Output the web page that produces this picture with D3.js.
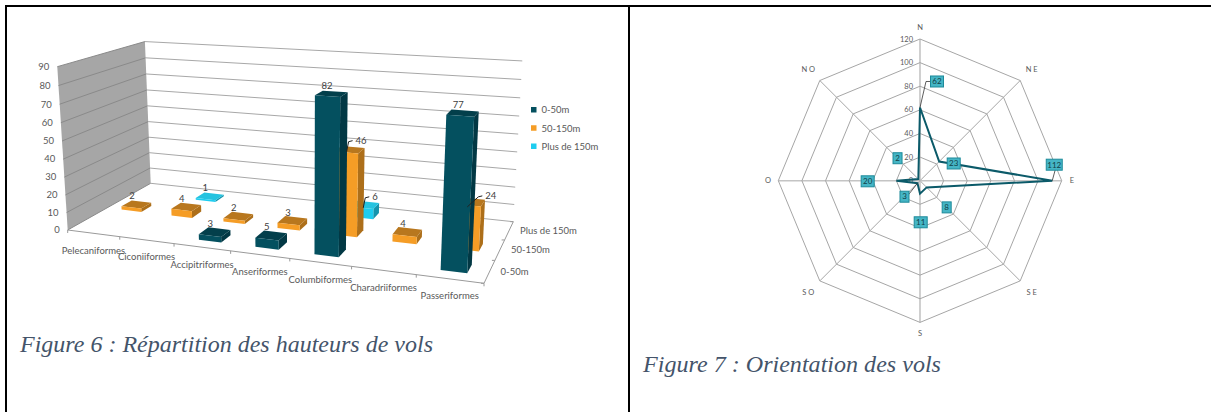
<!DOCTYPE html>
<html lang="fr">
<head>
<meta charset="utf-8">
<title>Hauteurs et orientation des vols</title>
<script src="https://cdn.jsdelivr.net/npm/d3@7"></script>
<style>
  html, body { margin: 0; padding: 0; background: #fff; }
  svg { display: block; }
  text { font-family: Lato, "Open Sans", sans-serif; }
  .caption { font-family: "Liberation Serif", serif; font-style: italic; fill: #44546a; }
</style>
</head>
<body>
<svg id="chart" width="1211" height="412"></svg>
<script>
// Flight height counts per bird order
const orders = ["Pelecaniformes", "Ciconiiformes", "Accipitriformes", "Anseriformes", "Columbiformes", "Charadriiformes", "Passeriformes"];
const heightBands = ["0-50m", "50-150m", "Plus de 150m"];
const heightLow = [0, 0, 3, 5, 82, 0, 77];
const heightMid = [2, 4, 2, 3, 46, 4, 24];
const heightHigh = [0, 1, 0, 0, 6, 0, 0];

// Flight orientation counts
const directions = ["N", "N E", "E", "S E", "S", "S O", "O", "N O"];
const directionCounts = [62, 23, 112, 8, 11, 3, 20, 2];

const svg = d3.select("#chart");

// Table rules around the two figures
svg.append("rect").attr("x", 5).attr("y", 5).attr("width", 1206).attr("height", 2).attr("fill", "#000");
svg.append("rect").attr("x", 5).attr("y", 5).attr("width", 2).attr("height", 407).attr("fill", "#000");
svg.append("rect").attr("x", 628).attr("y", 5).attr("width", 2).attr("height", 407).attr("fill", "#000");

svg.append("text").attr("class", "caption").attr("x", 20).attr("y", 352).attr("font-size", 24)
  .attr("textLength", 413).attr("lengthAdjust", "spacingAndGlyphs")
  .text("Figure 6 : Répartition des hauteurs de vols");
svg.append("text").attr("class", "caption").attr("x", 643).attr("y", 372).attr("font-size", 24)
  .attr("textLength", 298).attr("lengthAdjust", "spacingAndGlyphs")
  .text("Figure 7 : Orientation des vols");

/* ---------- Figure 6: perspective column chart ---------- */

// Projective camera: the floor quadrilateral fixes u and v, one raised corner plus a
// foreshortening term fixes the vertical direction.
function makeCamera(p00, p10, p11, p01, raised, k) {
  const dx1 = p10[0] - p11[0], dx2 = p01[0] - p11[0], sx = p00[0] - p10[0] + p11[0] - p01[0];
  const dy1 = p10[1] - p11[1], dy2 = p01[1] - p11[1], sy = p00[1] - p10[1] + p11[1] - p01[1];
  const det = dx1 * dy2 - dx2 * dy1;
  const g = (sx * dy2 - dx2 * sy) / det, h = (dx1 * sy - sx * dy1) / det;
  const a = p10[0] - p00[0] + g * p10[0], b = p01[0] - p00[0] + h * p01[0], c = p00[0];
  const d = p10[1] - p00[1] + g * p10[1], e = p01[1] - p00[1] + h * p01[1], f = p00[1];
  const cx = raised[0] * (1 + k) - c, cy = raised[1] * (1 + k) - f;
  return (u, v, t) => {
    const w = g * u + h * v + k * t + 1;
    return [(a * u + b * v + cx * t + c) / w, (d * u + e * v + cy * t + f) / w];
  };
}

const camera = makeCamera([67.7, 230], [484, 283.3], [513.3, 221.7], [150.7, 183.3], [57.3, 66.7], -0.042);

const xBand = d3.scaleBand().domain(d3.range(orders.length)).range([0, 1]);
const depthBand = d3.scaleBand().domain(d3.range(heightBands.length)).range([0, 1]);
const zScale = d3.scaleLinear().domain([0, 90]).range([0, 1]);

const at3d = (u, v, value) => camera(u, v, zScale(value));
const polyPath = pts => "M" + pts.map(p => p.join(",")).join("L") + "Z";
const linePath = (a, b) => `M${a[0]},${a[1]}L${b[0]},${b[1]}`;

const g3d = svg.append("g");
const axisGrey = "#9a9a9a";

// Side wall and the gridlines on both walls
g3d.append("path").attr("fill", "#a6a6a6")
  .attr("d", polyPath([at3d(0, 0, 0), at3d(0, 1, 0), at3d(0, 1, 90), at3d(0, 0, 90)]));
zScale.ticks(9).forEach(t => {
  g3d.append("path").attr("stroke", "#8a8a8a").attr("fill", "none").attr("d", linePath(at3d(0, 0, t), at3d(0, 1, t)));
  g3d.append("path").attr("stroke", "#a8a8a8").attr("fill", "none").attr("d", linePath(at3d(0, 1, t), at3d(1, 1, t)));
  const p = at3d(0, 0, t);
  g3d.append("text").attr("x", p[0] - 8).attr("y", p[1]).attr("dy", "0.35em").attr("text-anchor", "end")
    .attr("font-size", 9.5).attr("fill", "#595959").text(t);
});

// Floor axes with their ticks
g3d.append("path").attr("stroke", axisGrey).attr("fill", "none").attr("d", linePath(at3d(0, 0, 0), at3d(1, 0, 0)));
g3d.append("path").attr("stroke", axisGrey).attr("fill", "none").attr("d", linePath(at3d(1, 0, 0), at3d(1, 1, 0)));
d3.range(orders.length + 1).forEach(i => {
  const u = i / orders.length, p = at3d(u, 0, 0);
  g3d.append("path").attr("stroke", axisGrey).attr("d", linePath(p, [p[0], p[1] + 3]));
});
d3.range(heightBands.length + 1).forEach(j => {
  const v = j / heightBands.length, p = at3d(1, v, 0);
  g3d.append("path").attr("stroke", axisGrey).attr("d", linePath(p, [p[0] - 3, p[1]]));
});

orders.forEach((name, i) => {
  const p = at3d(xBand(i) + xBand.bandwidth() / 2, 0, 0);
  g3d.append("text").attr("x", p[0]).attr("y", p[1] + 17).attr("dy", "0.35em").attr("text-anchor", "middle")
    .attr("font-size", 9.5).attr("fill", "#595959").text(name);
});
heightBands.forEach((name, j) => {
  const p = at3d(1, depthBand(j) + depthBand.bandwidth() / 2, 0);
  g3d.append("text").attr("x", p[0] + 11).attr("y", p[1]).attr("dy", "0.35em")
    .attr("font-size", 9.5).attr("fill", "#595959").text(name);
});

const bandValues = [heightLow, heightMid, heightHigh];
const bandColors = [
  { front: "#04505f", top: "#033f4b", side: "#023844" },
  { front: "#f59d26", top: "#b8771e", side: "#ad6f1a" },
  { front: "#1ecdf0", top: "#25c3e0", side: "#1494ad" }
];
const barHalfWidth = 0.2, barHalfDepth = 0.19;

// Leader-line callouts for labels beside their column: label dx, dy and how far back the tail starts
const calloutOffsets = { "1-4": [11, -9, 9], "2-4": [12, -8, 9], "1-6": [20, -6, 18] };

const labels = [];
d3.range(heightBands.length).reverse().forEach(j => {
  orders.forEach((_, i) => {
    const value = bandValues[j][i];
    if (!value) return;
    const cu = xBand(i) + xBand.bandwidth() / 2, cv = depthBand(j) + depthBand.bandwidth() / 2;
    const u0 = cu - xBand.bandwidth() * barHalfWidth, u1 = cu + xBand.bandwidth() * barHalfWidth;
    const v0 = cv - depthBand.bandwidth() * barHalfDepth, v1 = cv + depthBand.bandwidth() * barHalfDepth;
    const col = bandColors[j];
    g3d.append("path").attr("fill", col.side)
      .attr("d", polyPath([at3d(u1, v0, 0), at3d(u1, v1, 0), at3d(u1, v1, value), at3d(u1, v0, value)]));
    g3d.append("path").attr("fill", col.top)
      .attr("d", polyPath([at3d(u0, v0, value), at3d(u1, v0, value), at3d(u1, v1, value), at3d(u0, v1, value)]));
    g3d.append("path").attr("fill", col.front)
      .attr("d", polyPath([at3d(u0, v0, 0), at3d(u1, v0, 0), at3d(u1, v0, value), at3d(u0, v0, value)]));
    labels.push({ value, anchor: at3d(cu, cv, value), callout: calloutOffsets[j + "-" + i] });
  });
});

// Value labels go on last so no column hides them
labels.forEach(d => {
  if (d.callout) {
    const tx = d.anchor[0] + d.callout[0] - 5, ty = d.anchor[1] + d.callout[1];
    g3d.append("path").attr("fill", "none").attr("stroke", "#222")
      .attr("d", `M${tx - d.callout[2]},${ty + 11}L${tx - 7},${ty + 1}L${tx - 3},${ty}`);
    g3d.append("text").attr("x", tx).attr("y", ty).attr("dy", "0.35em")
      .attr("font-size", 9.5).attr("fill", "#404040").text(d.value);
  } else {
    g3d.append("text").attr("x", d.anchor[0] - 4.5).attr("y", d.anchor[1] - 5).attr("text-anchor", "middle")
      .attr("font-size", 9.5).attr("fill", "#404040").text(d.value);
  }
});

// Legend
const legendY = d3.scalePoint().domain(heightBands).range([110, 146.5]);
heightBands.forEach((name, j) => {
  svg.append("rect").attr("x", 531).attr("y", legendY(name) - 3).attr("width", 5.5).attr("height", 5.5)
    .attr("fill", bandColors[j].front);
  svg.append("text").attr("x", 541.5).attr("y", legendY(name)).attr("dy", "0.35em")
    .attr("font-size", 9.5).attr("fill", "#595959").text(name);
});

/* ---------- Figure 7: radar chart ---------- */

const radar = svg.append("g").attr("transform", "translate(920,180.7)");
const rScale = d3.scaleLinear().domain([0, 120]).range([0, 141.7]);
const angle = i => i * 2 * Math.PI / directions.length;
const polar = (i, r) => [r * Math.sin(angle(i)), -r * Math.cos(angle(i))];
const ring = d3.lineRadial().curve(d3.curveLinearClosed);
const ringTicks = rScale.ticks(6);

directions.forEach((_, i) => {
  const end = polar(i, rScale(120));
  radar.append("line").attr("x2", end[0]).attr("y2", end[1])
    .attr("stroke", i % 2 ? "#a6a6a6" : "#c4c4c4").attr("stroke-width", i % 2 ? 1 : 1.6);
});
ringTicks.slice(1).forEach(t => {
  radar.append("path").attr("fill", "none").attr("stroke", "#a6a6a6")
    .attr("d", ring(directions.map((_, i) => [angle(i), rScale(t)])));
});
ringTicks.forEach(t => {
  radar.append("text").attr("x", -7).attr("y", -rScale(t)).attr("dy", "0.35em").attr("text-anchor", "end")
    .attr("font-size", 7.5).attr("fill", "#595959").text(t);
});

const directionLabelRadius = [153, 158, 152, 158, 153, 158, 152, 158];
directions.forEach((name, i) => {
  const p = polar(i, directionLabelRadius[i]);
  radar.append("text").attr("x", p[0]).attr("y", p[1]).attr("dy", "0.35em").attr("text-anchor", "middle")
    .attr("font-size", 7.5).attr("fill", "#595959").text(name);
});

radar.append("path").attr("fill", "none").attr("stroke", "#0b5a69").attr("stroke-width", 2).attr("stroke-linejoin", "miter")
  .attr("d", ring(directionCounts.map((v, i) => [angle(i), rScale(v)])));

// Label boxes sit away from their points; some keep a leader line
const labelOffsets = [[17, -26], [14.5, 2], [2, -16], [20, 20], [0.7, 28.6], [-13, 13.5], [-28.7, 0.6], [-20.8, -20.8]];
const labelLeader = [true, false, true, false, false, true, false, false];
directionCounts.forEach((v, i) => {
  const p = polar(i, rScale(v)), box = [p[0] + labelOffsets[i][0], p[1] + labelOffsets[i][1]];
  const w = String(v).length > 2 ? 16 : (String(v).length > 1 ? 13 : 9), h = 11;
  if (labelLeader[i]) {
    radar.append("path").attr("fill", "none").attr("stroke", "#333").attr("stroke-width", 0.8)
      .attr("d", `M${p[0]},${p[1]}L${box[0] - (i === 0 ? 11 : (i === 2 ? -1 : -4))},${box[1] + (i === 0 ? 0 : (i === 2 ? 5 : -2))}` + (i === 0 ? `L${box[0] - w / 2},${box[1]}` : ""));
  }
  radar.append("rect").attr("x", box[0] - w / 2).attr("y", box[1] - h / 2).attr("width", w).attr("height", h)
    .attr("fill", "#45b5c5").attr("stroke", "#1d8a9a").attr("stroke-width", 1);
  radar.append("text").attr("x", box[0]).attr("y", box[1]).attr("dy", "0.35em").attr("text-anchor", "middle")
    .attr("font-size", 8).attr("fill", "#123f48").text(v);
});
</script>
</body>
</html>
